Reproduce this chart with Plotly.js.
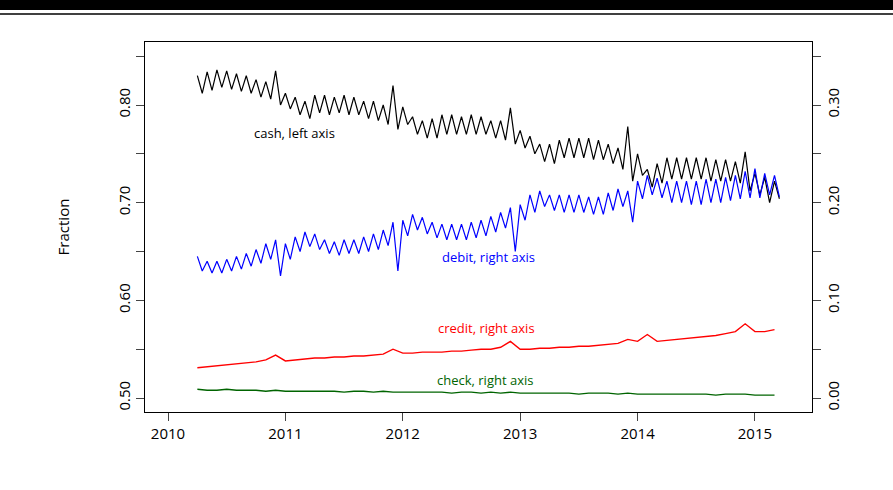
<!DOCTYPE html>
<html>
<head>
<script src="https://cdn.plot.ly/plotly-3.0.1.min.js"></script>
<style>body{margin:0;background:#fff}#chart{width:893px;height:490px}</style>
</head>
<body>
<div id="chart"></div>
<script>
// half-monthly readings, Apr 2010 - Mar 2015
var cash = [
.830,.812, .834,.815, .836,.818, .835,.816, .832,.814, .830,.812, .826,.808, .824,.806, .835,.800,
.812,.796, .808,.790, .804,.786, .810,.792, .810,.790, .808,.792, .810,.790, .808,.790, .804,.786, .804,.784, .800,.780, .820,.775,
.798,.780, .788,.770, .784,.766, .786,.766, .790,.770, .790,.770, .788,.770, .790,.770, .788,.770, .784,.766, .784,.764, .797,.760,
.774,.756, .768,.750, .760,.742, .760,.740, .764,.746, .766,.746, .766,.746, .766,.744, .764,.744, .760,.740, .756,.734, .778,.722,
.750,.728, .734,.716, .740,.720, .746,.724, .746,.724, .746,.724, .746,.724, .746,.722, .744,.722, .744,.722, .742,.720, .752,.712,
.730,.708, .726,.700, .722,.704];
var debit = [
.145,.130, .140,.128, .140,.128, .142,.130, .145,.132, .148,.135, .152,.138, .158,.142, .162,.125,
.158,.142, .165,.150, .170,.155, .168,.152, .162,.148, .160,.146, .162,.148, .162,.148, .165,.150, .168,.152, .172,.156, .180,.130,
.182,.166, .188,.172, .185,.168, .180,.164, .178,.162, .178,.162, .178,.162, .180,.164, .182,.166, .186,.170, .190,.174, .195,.150,
.198,.182, .208,.190, .212,.196, .208,.192, .208,.190, .208,.190, .208,.190, .206,.188, .206,.188, .210,.192, .214,.196, .212,.180,
.222,.204, .228,.208, .225,.205, .222,.200, .222,.200, .222,.198, .222,.198, .224,.200, .224,.200, .226,.202, .228,.204, .232,.205,
.235,.205, .230,.208, .228,.206];
// monthly readings
var credit = [
.031,.032,.033,.034,.035,.036,.037,.039,.044,
.038,.039,.040,.041,.041,.042,.042,.043,.043,.044,.045,.050,
.046,.046,.047,.047,.047,.048,.048,.049,.050,.050,.052,.058,
.050,.050,.051,.051,.052,.052,.053,.053,.054,.055,.056,.060,
.058,.065,.058,.059,.060,.061,.062,.063,.064,.066,.068,.076,
.068,.068,.070];
var check = [
.009,.008,.008,.009,.008,.008,.008,.007,.008,
.007,.007,.007,.007,.007,.007,.006,.007,.007,.006,.007,.006,
.006,.006,.006,.006,.006,.005,.006,.006,.005,.006,.005,.006,
.005,.005,.005,.005,.005,.005,.004,.005,.005,.005,.004,.005,
.004,.004,.004,.004,.004,.004,.004,.004,.003,.004,.004,.004,
.003,.003,.003];
var startYear = 2010.25;

function times(n, step) {
  var t = [];
  for (var i = 0; i < n; i++) t.push(startYear + i * step);
  return t;
}

var traces = [
  {x: times(cash.length, 1/24), y: cash, type: 'scatter', mode: 'lines', line: {color: 'black', width: 1.2}, yaxis: 'y'},
  {x: times(debit.length, 1/24), y: debit, type: 'scatter', mode: 'lines', line: {color: '#0000ff', width: 1.2}, yaxis: 'y2'},
  {x: times(credit.length, 1/12), y: credit, type: 'scatter', mode: 'lines', line: {color: '#ff0000', width: 1.4}, yaxis: 'y2'},
  {x: times(check.length, 1/12), y: check, type: 'scatter', mode: 'lines', line: {color: '#006400', width: 1.4}, yaxis: 'y2'}
];

var f = {family: 'Open Sans, sans-serif', size: 15, color: 'black'};
var layout = {
  width: 893, height: 490, showlegend: false,
  paper_bgcolor: 'white', plot_bgcolor: 'white',
  margin: {l: 145, r: 81, t: 42, b: 78},
  font: f,
  xaxis: {range: [2009.804, 2015.486], tickvals: [2010, 2011, 2012, 2013, 2014, 2015],
    ticks: 'outside', ticklen: 8, showgrid: false, zeroline: false, showline: true, mirror: true, linecolor: 'black'},
  yaxis: {range: [0.4857, 0.8645], tickvals: [0.5, 0.55, 0.6, 0.65, 0.7, 0.75, 0.8, 0.85],
    ticktext: ['0.50', '', '0.60', '', '0.70', '', '0.80', ''], tickangle: -90,
    ticks: 'outside', ticklen: 8, showgrid: false, zeroline: false, showline: true, mirror: true, linecolor: 'black',
    title: {text: 'Fraction', font: f, standoff: 40}},
  yaxis2: {overlaying: 'y', side: 'right', range: [-0.0143, 0.3645],
    tickvals: [0, 0.05, 0.1, 0.15, 0.2, 0.25, 0.3, 0.35],
    ticktext: ['0.00', '', '0.10', '', '0.20', '', '0.30', ''], tickangle: -90,
    ticks: 'outside', ticklen: 8, showgrid: false, zeroline: false},
  annotations: [
    {x: 2011.08, y: 0.771, text: 'cash, left axis', showarrow: false, font: {size: 13, color: 'black'}},
    {x: 2012.73, y: 0.644, text: 'debit, right axis', showarrow: false, font: {size: 13, color: '#0000ff'}},
    {x: 2012.71, y: 0.5716, text: 'credit, right axis', showarrow: false, font: {size: 13, color: '#ff0000'}},
    {x: 2012.70, y: 0.518, text: 'check, right axis', showarrow: false, font: {size: 13, color: '#006400'}}
  ],
  shapes: [
    {type: 'rect', xref: 'paper', yref: 'paper', x0: -0.3, x1: 1.2, y0: 1.0865, y1: 1.13, fillcolor: 'black', line: {width: 0}},
    {type: 'line', xref: 'paper', yref: 'paper', x0: -0.3, x1: 1.2, y0: 1.0757, y1: 1.0757, line: {color: 'black', width: 1.5}}
  ]
};

Plotly.newPlot('chart', traces, layout, {displayModeBar: false});
</script>
</body>
</html>
